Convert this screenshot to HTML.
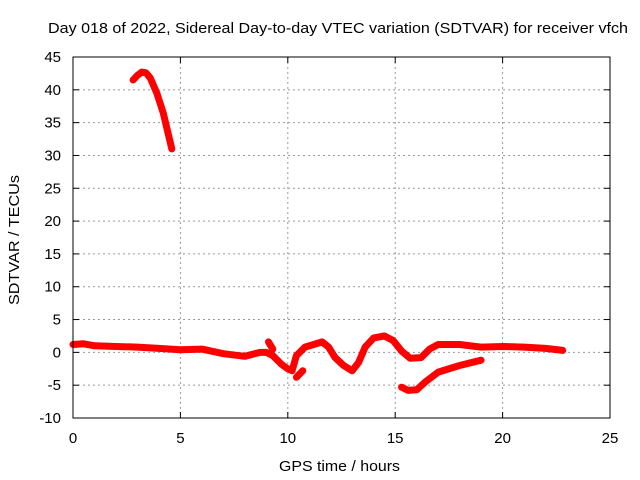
<!DOCTYPE html>
<html><head><meta charset="utf-8"><style>
body{margin:0;background:#fff}
svg{display:block;font-family:"Liberation Sans",sans-serif}
</style></head><body>
<svg id="chart" width="640" height="480" viewBox="0 0 640 480">
<rect width="640" height="480" fill="#fff"/>
<g id="grid"></g>
<g id="data"></g>
<rect x="73" y="57" width="537" height="361" fill="none" stroke="#000"/>
<g id="ticks"></g>
<text x="48" y="33" font-size="15" textLength="580" lengthAdjust="spacingAndGlyphs">Day 018 of 2022, Sidereal Day-to-day VTEC variation (SDTVAR) for receiver vfch</text>
<text x="279" y="471" font-size="15" textLength="121" lengthAdjust="spacingAndGlyphs">GPS time / hours</text>
<text transform="translate(19,305) rotate(-90)" font-size="15" textLength="130" lengthAdjust="spacingAndGlyphs">SDTVAR / TECUs</text>
</svg>
<script>
const xTicks=[0,5,10,15,20,25];
const yTicks=[-10,-5,0,5,10,15,20,25,30,35,40,45];
const mainX=[0,0.5,1,2,3,4,5,6,7,8,8.7,9,9.3,9.7,10,10.2,10.4,10.8,11.2,11.6,11.9,12.2,12.6,13,13.3,13.6,14,14.5,14.9,15.3,15.7,16.2,16.6,17,18,19,20,21,22,22.8];
const mainY=[1.2,1.3,1,0.9,0.8,0.6,0.4,0.5,-0.2,-0.6,0,0,-0.5,-1.8,-2.5,-2.8,-0.5,0.8,1.2,1.6,0.8,-0.8,-2,-2.8,-1.5,0.8,2.2,2.5,1.8,0.2,-0.9,-0.8,0.5,1.2,1.2,0.8,0.9,0.8,0.6,0.3];
const topX=[2.8,3.0,3.2,3.4,3.6,3.9,4.2,4.6];
const topY=[41.5,42.2,42.7,42.6,41.8,39.5,36.5,31];
const lowX=[15.3,15.6,16,16.4,17,18,19];
const lowY=[-5.3,-5.8,-5.7,-4.5,-3,-2,-1.2];
const blipX=[10.4,10.7];
const blipY=[-3.8,-2.8];
const spikeX=[9.1,9.3];
const spikeY=[1.6,0.5];
const sx=v=>73+v*537/25, sy=v=>418-(v+10)*361/55;
const NS="http://www.w3.org/2000/svg";
const grid=document.getElementById('grid'),tk=document.getElementById('ticks'),dg=document.getElementById('data');
function mk(t,a,p){const e=document.createElementNS(NS,t);for(const k in a)e.setAttribute(k,a[k]);p.appendChild(e);return e;}
xTicks.forEach(v=>{const x=sx(v);
 if(v>0&&v<25){const g=mk('line',{x1:x,x2:x,y1:57,y2:418,stroke:'#999','stroke-dasharray':'2,3'},grid);
 
 }
 mk('line',{x1:x,x2:x,y1:418,y2:412,stroke:'#000'},tk);mk('line',{x1:x,x2:x,y1:57,y2:63,stroke:'#000'},tk);
 const t=mk('text',{x:x,y:443,'font-size':15,'text-anchor':'middle'},tk);t.textContent=v;
 
 });
yTicks.forEach(v=>{const y=sy(v);
 if(v>-10&&v<45){const g=mk('line',{x1:73,x2:610,y1:y,y2:y,stroke:'#999','stroke-dasharray':'2,3'},grid);
 
 }
 mk('line',{x1:73,x2:79,y1:y,y2:y,stroke:'#000'},tk);mk('line',{x1:610,x2:604,y1:y,y2:y,stroke:'#000'},tk);
 const t=mk('text',{x:61,y:y+5,'font-size':15,'text-anchor':'end'},tk);t.textContent=v;
 
 });
function series(X,Y,name){const d=X.map((x,i)=>(i?'L':'M')+sx(x).toFixed(1)+','+sy(Y[i]).toFixed(1)).join('');
 const p=mk('path',{d:d,fill:'none',stroke:'#f00','stroke-width':7,'stroke-linejoin':'round','stroke-linecap':'round'},dg);
 
 }
series(mainX,mainY,'main-series');series(topX,topY,'early-high-series');series(lowX,lowY,'lower-series');series(blipX,blipY,'blip-series');series(spikeX,spikeY,'spike-series');
</script>
</body></html>
